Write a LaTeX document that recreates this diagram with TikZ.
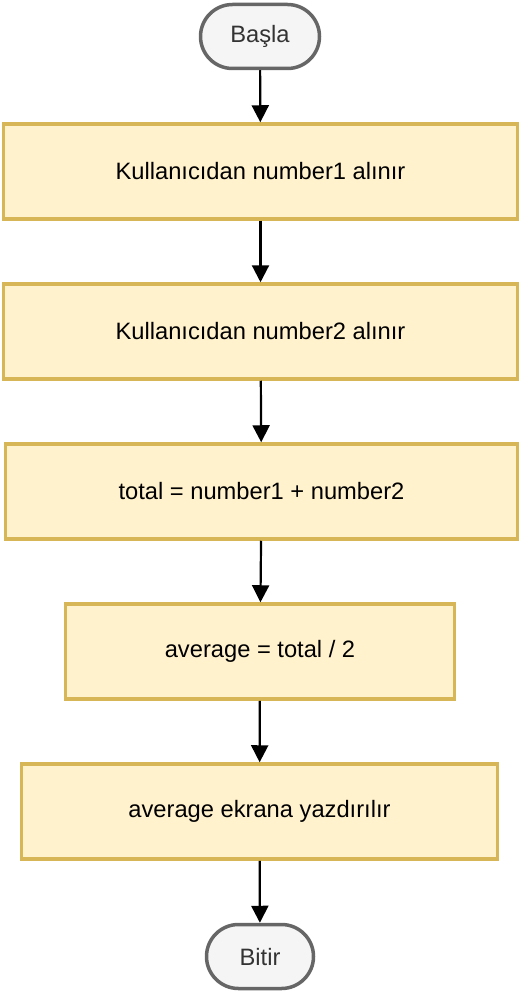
\documentclass[tikz,border=0pt]{standalone}
\usepackage{fontspec}
\setmainfont{Liberation Sans}
\usetikzlibrary{arrows.meta}

\begin{document}
\begin{tikzpicture}[x=1pt,y=-1pt]
	\tikzstyle{every node}=[font=\fontsize{23.7}{28}\selectfont]

	\definecolor{procfill}{RGB}{255,242,204}
	\definecolor{procline}{RGB}{214,182,86}
	\definecolor{termfill}{RGB}{245,245,245}
	\definecolor{termline}{RGB}{102,102,102}
	\definecolor{termtext}{RGB}{51,51,51}
	%% flow chart, px coordinates

	\tikzstyle{terminal}=[draw=termline, fill=termfill, text=termtext, line width=3.5pt, rounded corners=32pt, minimum height=64pt, inner sep=0pt]
	\tikzstyle{process}=[draw=procline, fill=procfill, line width=3.5pt, minimum height=95pt, inner sep=0pt]
	\tikzstyle{flow}=[line width=2.2pt, -{Triangle[width=17pt,length=17pt]}]

	\useasboundingbox (0,0) rectangle (520,992);

	\node [terminal, minimum width=119pt] (start) at (260,36.5) {Başla};
	\node [process, minimum width=514pt] (getone) at (260.5,171.5) {Kullanıcıdan number1 alınır};
	\node [process, minimum width=514pt] (gettwo) at (260.5,331.5) {Kullanıcıdan number2 alınır};
	\node [process, minimum width=512pt] (sum) at (261.5,491.5) {total = number1 + number2};
	\node [process, minimum width=389pt] (avg) at (260,651.5) {average = total / 2};
	\node [process, minimum width=476pt] (print) at (259.5,811.5) {average ekrana yazdırılır};
	\node [terminal, minimum width=107pt] (stop) at (260,956.5) {Bitir};

	\draw [flow] (start) -- (getone);
	\draw [flow] (getone) -- (gettwo);
	\draw [flow] (gettwo) -- (sum);
	\draw [flow] (sum) -- (avg);
	\draw [flow] (avg) -- (print);
	\draw [flow] (print) -- (stop);

\end{tikzpicture}
\end{document}
